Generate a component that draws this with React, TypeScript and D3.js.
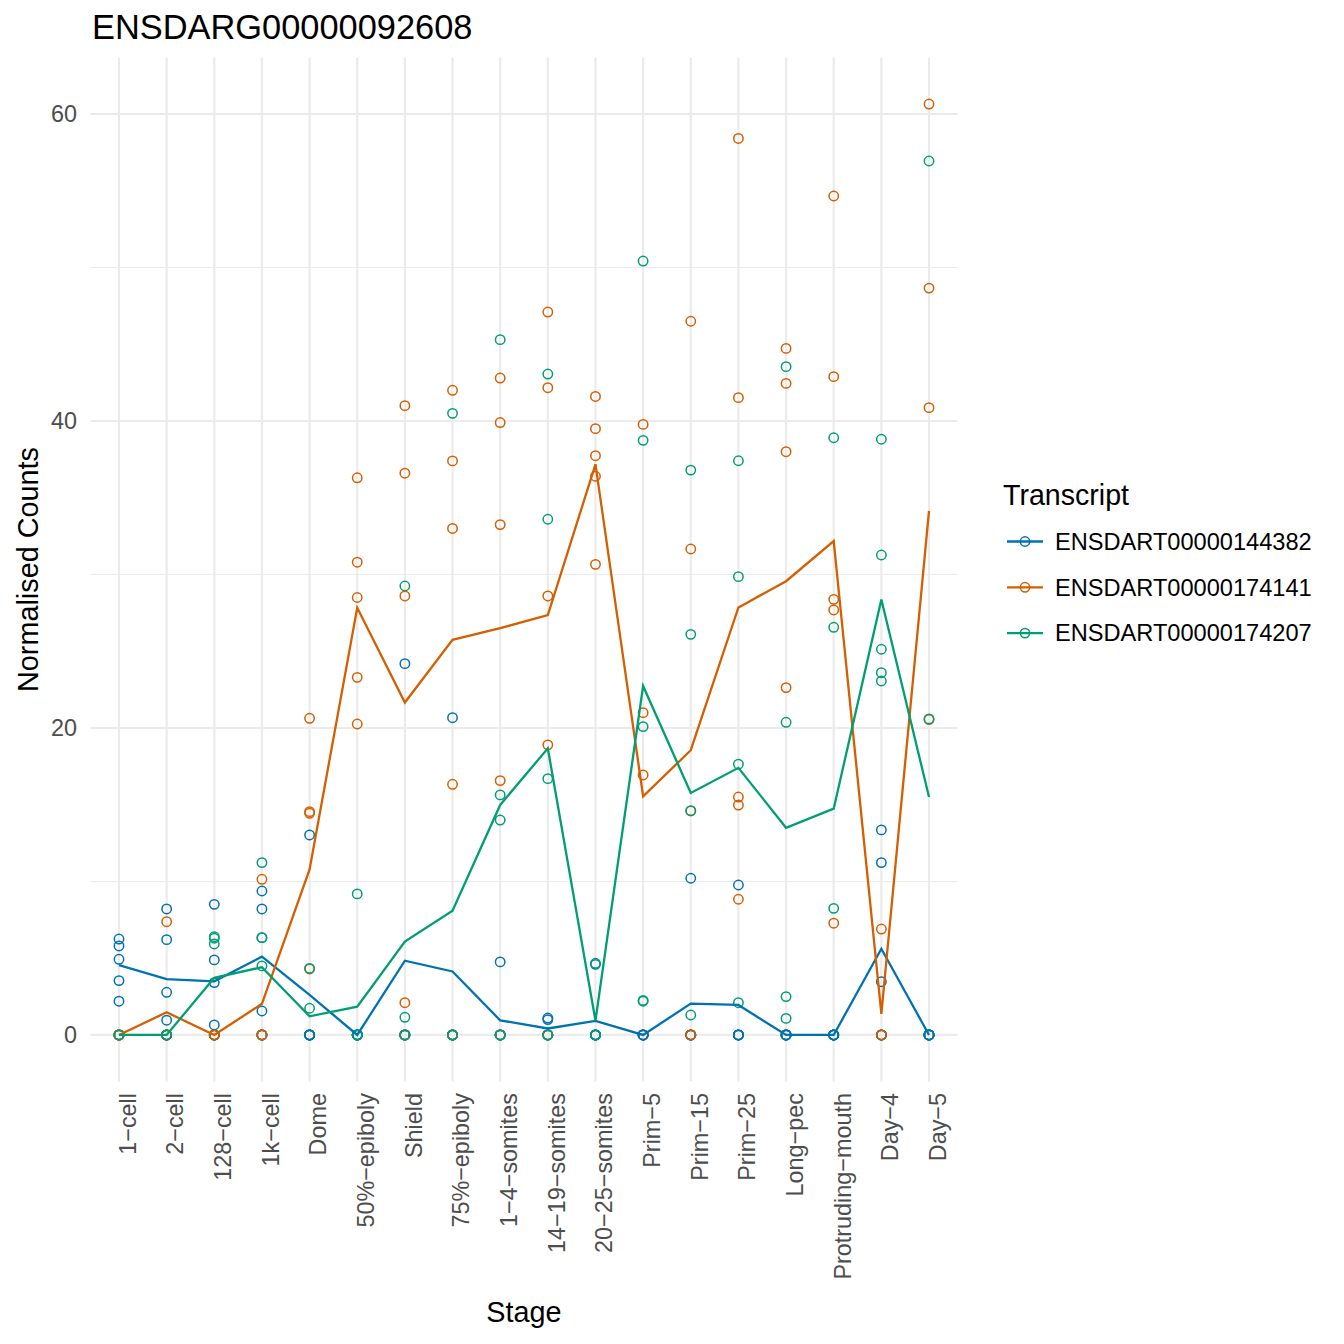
import React from "react";
import * as d3 from "d3";

const stages = [
  "1-cell", "2-cell", "128-cell", "1k-cell", "Dome", "50%-epiboly", "Shield",
  "75%-epiboly", "1-4-somites", "14-19-somites", "20-25-somites", "Prim-5",
  "Prim-15", "Prim-25", "Long-pec", "Protruding-mouth", "Day-4", "Day-5",
];
const stageLabels = stages.map((s) => s.replace(/-/g, "\u2212"));

const transcripts = ["ENSDART00000144382", "ENSDART00000174141", "ENSDART00000174207"];
const colors = ["#0072B2", "#D55E00", "#009E73"];

// five replicates per stage, per transcript
const blueValues = [
  [6.25, 5.8, 4.93, 3.54, 2.2],
  [8.21, 6.21, 2.78, 0.96, 0],
  [8.51, 4.89, 3.41, 0.65, 0],
  [9.38, 8.21, 1.56, 6.34, 0],
  [13.03, 0, 0, 0, 0],
  [0, 0, 0, 0, 0],
  [24.19, 0, 0, 0, 0],
  [20.67, 0, 0, 0, 0],
  [4.76, 0, 0, 0, 0],
  [1.1, 1.0, 0, 0, 0],
  [4.6, 0, 0, 0, 0],
  [0, 0, 0, 0, 0],
  [10.21, 0, 0, 0, 0],
  [9.77, 0, 0, 0, 0],
  [0, 0, 0, 0, 0],
  [0, 0, 0, 0, 0],
  [13.36, 11.23, 3.47, 0, 0],
  [0, 0, 0, 0, 0],
];
const orangeValues = [
  [0, 0, 0, 0, 0],
  [7.38, 0, 0, 0, 0],
  [0, 0, 0, 0, 0],
  [10.14, 0, 0, 0, 0],
  [0, 20.63, 14.55, 14.44, 4.3],
  [36.3, 30.8, 28.5, 23.3, 20.26],
  [41.0, 36.6, 28.6, 2.1, 0],
  [42.0, 37.4, 33.0, 16.33, 0],
  [42.8, 39.9, 33.25, 16.57, 0],
  [47.1, 42.17, 28.6, 18.9, 0],
  [41.6, 39.5, 37.74, 36.4, 30.66],
  [0, 0, 39.78, 21.0, 16.94],
  [46.5, 31.66, 14.6, 0, 0],
  [58.41, 41.52, 15.5, 14.98, 8.84],
  [0, 44.73, 42.45, 38.0, 22.63],
  [54.66, 42.89, 28.38, 27.69, 7.28],
  [6.9, 0, 0, 0, 0],
  [0, 60.65, 48.66, 40.87, 20.55],
];
const greenValues = [
  [0, 0, 0, 0, 0],
  [0, 0, 0, 0, 0],
  [0, 0, 6.4, 6.3, 5.93],
  [0, 0, 11.23, 6.34, 4.5],
  [0, 0, 0, 1.74, 4.34],
  [9.19, 0, 0, 0, 0],
  [29.25, 1.15, 0, 0, 0],
  [40.5, 0, 0, 0, 0],
  [45.3, 15.64, 14.0, 0, 0],
  [43.06, 33.6, 16.7, 0, 0],
  [4.67, 0, 0, 0, 0],
  [50.42, 38.74, 20.09, 2.25, 2.2],
  [0, 36.8, 26.1, 14.61, 1.3],
  [0, 37.41, 29.86, 17.64, 2.1],
  [0, 43.54, 20.37, 2.5, 1.08],
  [0, 0, 38.91, 26.56, 8.25],
  [38.81, 31.27, 25.13, 23.6, 23.06],
  [0, 0, 0, 56.94, 20.59],
];
const seriesValues = [blueValues, orangeValues, greenValues];

const yMajorTicks = [0, 20, 40, 60];
const yMinorTicks = [10, 30, 50];

const FONT = "'Liberation Sans', Arial, Helvetica, sans-serif";

export default function App() {
  const W = 1344, H = 1344;
  const panel = { left: 90.4, right: 957.6, top: 57.5, bottom: 1081.5 };

  const x = d3.scalePoint<string>().domain(stages).range([panel.left, panel.right]).padding(0.6);
  const allVals = seriesValues.flat(2);
  const maxV = d3.max(allVals) as number;
  const minV = 0;
  const pad = (maxV - minV) * 0.05;
  const y = d3.scaleLinear().domain([minV - pad, maxV + pad]).range([panel.bottom, panel.top]);

  const line = d3.line<[number, number]>().x((d) => d[0]).y((d) => d[1]);

  // points in replicate-major order
  const points: { cx: number; cy: number; color: string; key: string }[] = [];
  stages.forEach((st, si) => {
    for (let r = 0; r < 5; r++) {
      seriesValues.forEach((sv, ti) => {
        points.push({ cx: x(st) as number, cy: y(sv[si][r]), color: colors[ti], key: `${si}-${r}-${ti}` });
      });
    }
  });

  const meanLines = seriesValues.map((sv) =>
    line(stages.map((st, si) => [x(st) as number, y(d3.mean(sv[si]) as number)]))
  );

  const cx = (panel.left + panel.right) / 2;
  const cy = (panel.top + panel.bottom) / 2;

  return (
    <svg width={W} height={H} style={{ position: "absolute", left: 0, top: 0, background: "#fff" }} fontFamily={FONT}>
      <rect x={0} y={0} width={W} height={H} fill="#fff" />
      {/* grid */}
      {yMinorTicks.map((t) => (
        <line key={"mn" + t} x1={panel.left} x2={panel.right} y1={y(t)} y2={y(t)} stroke="#EBEBEB" strokeWidth={1.1} />
      ))}
      {yMajorTicks.map((t) => (
        <line key={"mj" + t} x1={panel.left} x2={panel.right} y1={y(t)} y2={y(t)} stroke="#EBEBEB" strokeWidth={2.2} />
      ))}
      {stages.map((st) => (
        <line key={"vx" + st} x1={x(st)} x2={x(st)} y1={panel.top} y2={panel.bottom} stroke="#EBEBEB" strokeWidth={2.2} />
      ))}
      {/* points */}
      {points.map((p) => (
        <circle key={p.key} cx={p.cx} cy={p.cy} r={4.7} fill="none" stroke={p.color} strokeWidth={1.5} />
      ))}
      {/* mean lines */}
      {meanLines.map((d, i) => (
        <path key={"l" + i} d={d || ""} fill="none" stroke={colors[i]} strokeWidth={2.3} />
      ))}
      {/* y axis labels */}
      {yMajorTicks.map((t) => (
        <text key={"yl" + t} x={77} y={y(t)} dy="0.35em" textAnchor="end" fontSize={23.4} fill="#4D4D4D">
          {t}
        </text>
      ))}
      {/* x axis labels */}
      {stages.map((st, i) => (
        <text
          key={"xl" + st}
          transform={`translate(${x(st)},${1093}) rotate(-90)`}
          dy="0.72em"
          textAnchor="end"
          fontSize={23.4}
          fill="#4D4D4D"
        >
          {stageLabels[i]}
        </text>
      ))}
      {/* axis titles */}
      <text x={cx} y={1322} textAnchor="middle" fontSize={28.8} fill="#000">
        Stage
      </text>
      <text transform={`translate(${38},${cy}) rotate(-90)`} textAnchor="middle" fontSize={28.8} fill="#000">
        Normalised Counts
      </text>
      {/* title */}
      <text x={92} y={39} fontSize={34.4} fill="#000">
        ENSDARG00000092608
      </text>
      {/* legend */}
      <text x={1003} y={505} fontSize={28.6} fill="#000">
        Transcript
      </text>
      {transcripts.map((t, i) => {
        const ly = 541.5 + i * 45.8;
        return (
          <g key={"lg" + t}>
            <line x1={1007} x2={1043} y1={ly} y2={ly} stroke={colors[i]} strokeWidth={2.3} />
            <circle cx={1025} cy={ly} r={4.7} fill="none" stroke={colors[i]} strokeWidth={1.5} />
            <text x={1055} y={ly} dy="0.35em" fontSize={23.6} fill="#000">
              {t}
            </text>
          </g>
        );
      })}
    </svg>
  );
}
